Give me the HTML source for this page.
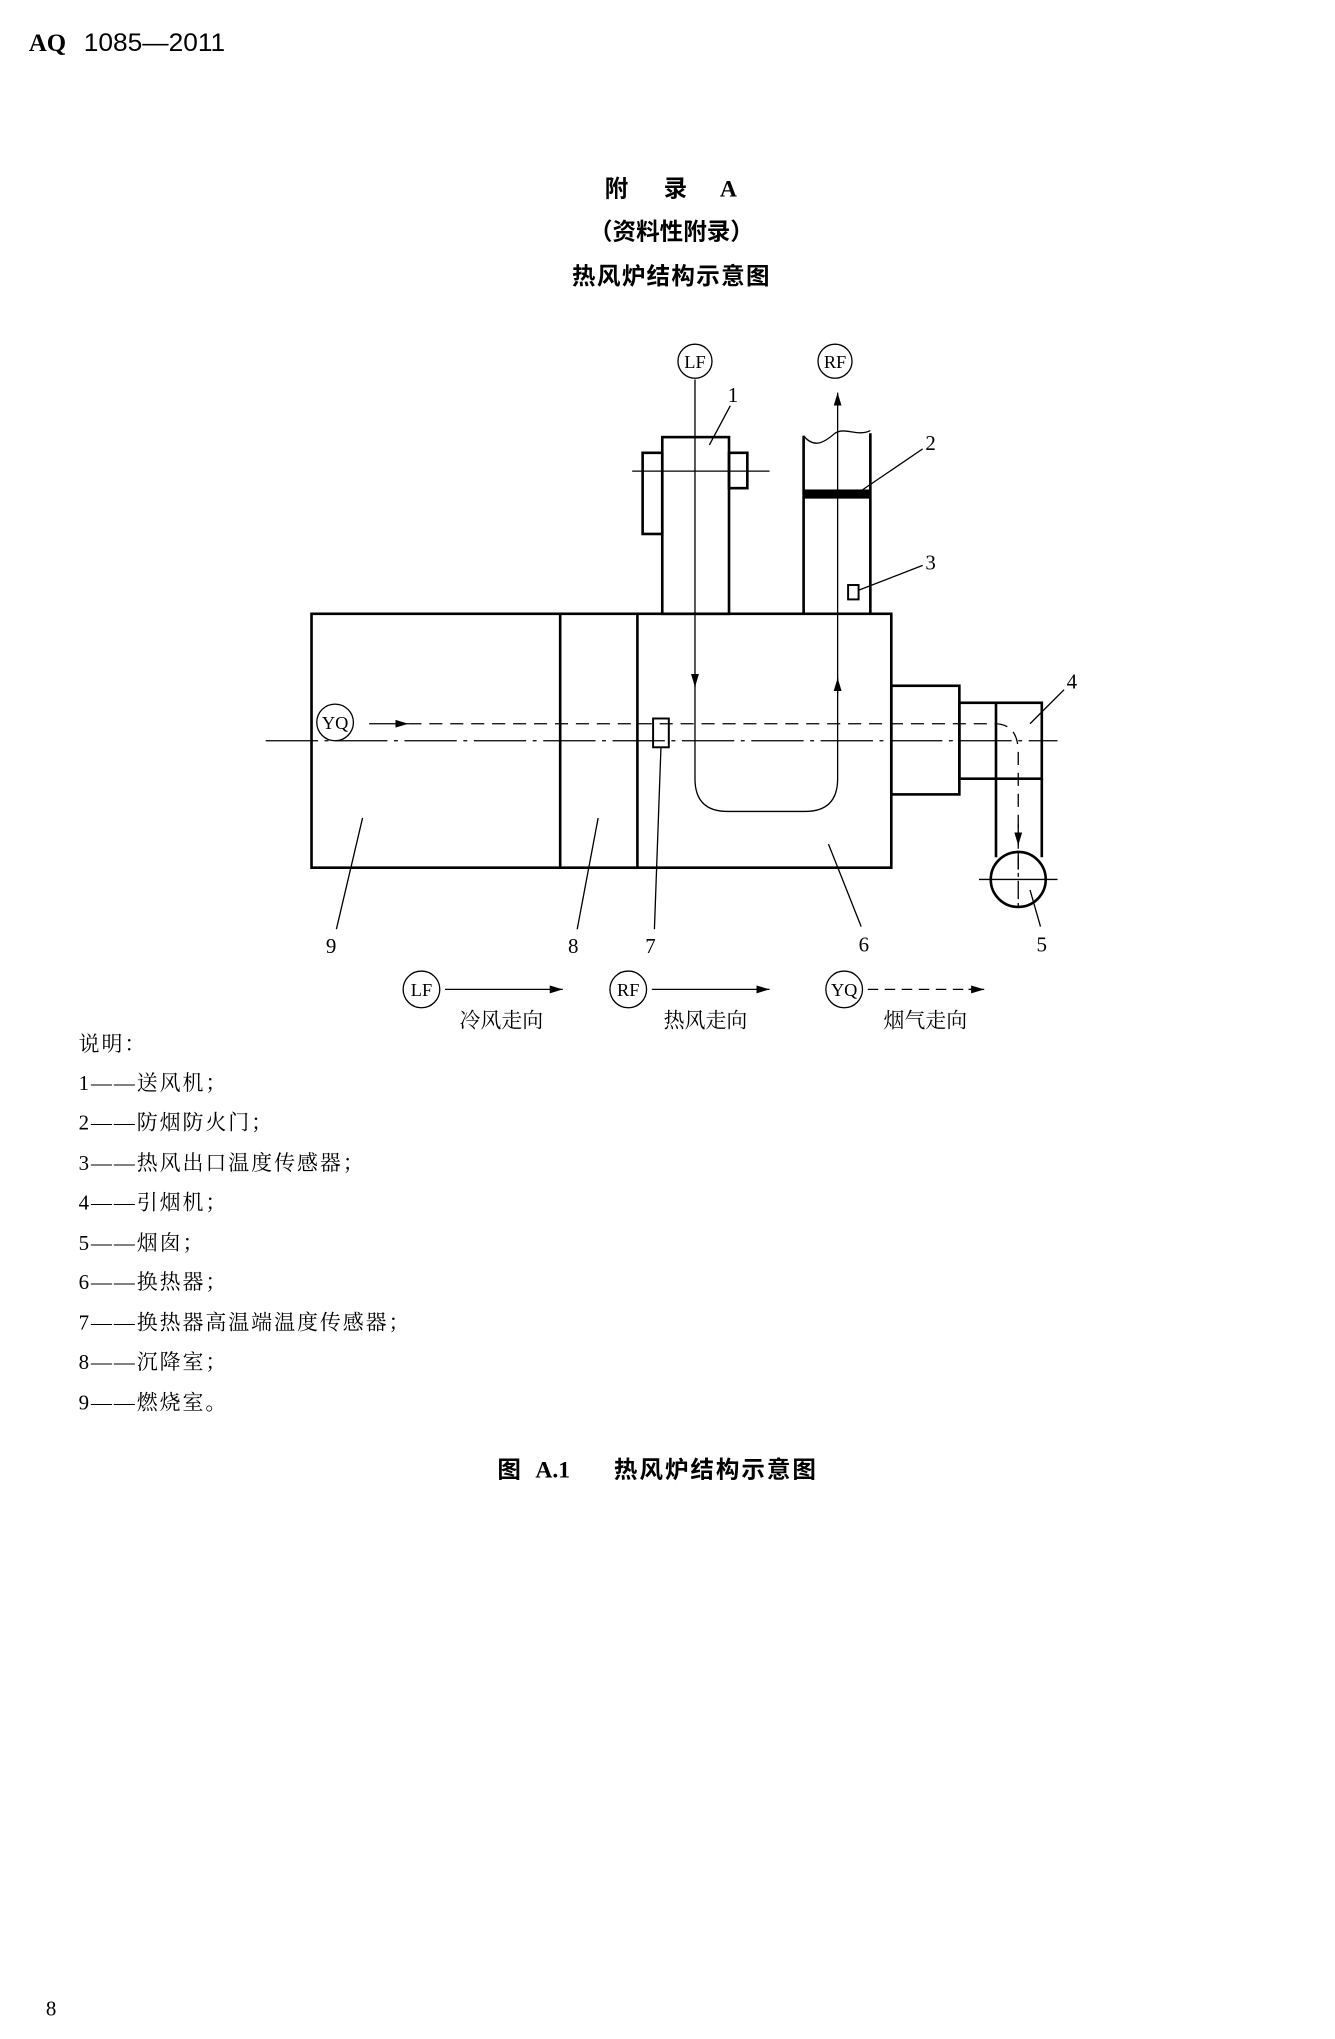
<!DOCTYPE html>
<html><head><meta charset="utf-8"><style>
html,body{margin:0;padding:0;background:#fff;}
svg{display:block;}
text{font-family:"Liberation Serif","Noto Serif CJK SC",serif;fill:#000;}
.cj{font-family:"Liberation Sans","Noto Sans CJK SC",sans-serif;}
.cs{font-family:"Noto Serif CJK SC","Liberation Serif",serif;}
</style></head><body>
<svg width="1335" height="2039" viewBox="0 0 1020 1558" xmlns="http://www.w3.org/2000/svg">
<defs><marker id="ah" viewBox="0 0 10 6" refX="10" refY="3" markerWidth="10" markerHeight="6" markerUnits="userSpaceOnUse" orient="auto"><path d="M0,0L10,3L0,6z" fill="#000"/></marker></defs>
<text x="22" y="39" font-size="19" font-weight="bold">AQ</text>
<text x="64" y="39" font-size="19" class="cj" textLength="108" lengthAdjust="spacingAndGlyphs">1085—2011</text>
<text x="462" y="150" font-size="18" font-weight="bold" class="cj">附</text>
<text x="507" y="150" font-size="18" font-weight="bold" class="cj">录</text>
<text x="550" y="150" font-size="18" font-weight="bold">A</text>
<text x="513" y="183" font-size="18" font-weight="bold" text-anchor="middle" class="cj">（资料性附录）</text>
<text x="513" y="217" font-size="18" font-weight="bold" text-anchor="middle" class="cj" letter-spacing="1">热风炉结构示意图</text>
<g fill="none" stroke="#000" stroke-width="2">
<rect x="238" y="469" width="443" height="194"/>
<line x1="428" y1="469" x2="428" y2="663"/><line x1="487" y1="469" x2="487" y2="663"/>
<rect x="506" y="334" width="51" height="135"/>
<rect x="491" y="346" width="15" height="62"/>
<rect x="557" y="346" width="14" height="27"/>
<path d="M614,469V333 M665,469V331"/>
<path d="M614,333 C622,343 630,338 638,331 C646,326 655,334 665,329" stroke-width="1"/>
<rect x="681" y="524" width="52" height="83"/>
<rect x="733" y="537" width="63" height="58"/>
<line x1="761" y1="537" x2="761" y2="655"/><line x1="796" y1="595" x2="796" y2="655"/>
<circle cx="778" cy="672" r="21"/>
<rect x="648" y="447" width="8" height="11" stroke-width="1.5"/>
<rect x="499" y="549" width="12" height="22" stroke-width="1.5"/>
</g>
<rect x="614" y="374" width="51" height="7" fill="#000"/>
<g stroke="#000" stroke-width="1" fill="none">
<line x1="483" y1="360" x2="588" y2="360"/>
<line x1="203" y1="566" x2="808" y2="566" stroke-dasharray="40,5,3,5"/>
<line x1="748" y1="672" x2="808" y2="672"/>
<line x1="778" y1="650" x2="778" y2="694" stroke-dasharray="14,3,3,3"/>
<line x1="531" y1="290" x2="531" y2="525" marker-end="url(#ah)"/>
<path d="M531,520 V595 Q531,620 556,620 H615 Q640,620 640,595 V300" marker-end="url(#ah)"/>
<line x1="640" y1="530" x2="640" y2="518" marker-end="url(#ah)"/>
<line x1="282" y1="553" x2="312" y2="553" marker-end="url(#ah)"/>
<path d="M312,553 H760 Q778,553 778,575 V665" stroke-dasharray="10,6"/>
<line x1="778" y1="630" x2="778" y2="646" marker-end="url(#ah)"/>
<circle cx="531" cy="276" r="13"/><circle cx="638" cy="276" r="13"/><circle cx="256" cy="552" r="14"/>
<line x1="542" y1="340" x2="558" y2="310"/>
<line x1="655" y1="377" x2="705" y2="343"/>
<line x1="656" y1="451" x2="705" y2="432"/>
<line x1="787" y1="553" x2="813" y2="527"/>
<line x1="277" y1="625" x2="257" y2="710"/>
<line x1="457" y1="625" x2="441" y2="710"/>
<line x1="505" y1="571" x2="500" y2="710"/>
<line x1="633" y1="645" x2="658" y2="708"/>
<line x1="787" y1="680" x2="795" y2="708"/>
<circle cx="322" cy="756" r="14"/><circle cx="480" cy="756" r="14"/><circle cx="645" cy="756" r="14"/>
<line x1="340" y1="756" x2="430" y2="756" marker-end="url(#ah)"/>
<line x1="498" y1="756" x2="588" y2="756" marker-end="url(#ah)"/>
<line x1="663" y1="756" x2="742" y2="756" stroke-dasharray="8,5"/>
<line x1="740" y1="756" x2="752" y2="756" marker-end="url(#ah)"/>
</g>
<g font-size="14" text-anchor="middle">
<text x="531" y="281">LF</text><text x="638" y="281">RF</text><text x="256" y="557">YQ</text>
<text x="322" y="761">LF</text><text x="480" y="761">RF</text><text x="645" y="761">YQ</text>
</g>
<g font-size="16">
<text x="556" y="307">1</text><text x="707" y="344">2</text><text x="707" y="435">3</text><text x="815" y="526">4</text>
<text x="249" y="728">9</text><text x="434" y="728">8</text><text x="493" y="728">7</text><text x="656" y="727">6</text><text x="792" y="727">5</text>
</g>
<g font-size="16" class="cs" text-anchor="middle">
<text x="383" y="785">冷风走向</text><text x="539" y="785">热风走向</text><text x="707" y="785">烟气走向</text>
</g>
<g font-size="16" class="cs" letter-spacing="1.5">
<text x="60" y="803">说明：</text>
<text x="60" y="833">1——送风机；</text>
<text x="60" y="863">2——防烟防火门；</text>
<text x="60" y="894">3——热风出口温度传感器；</text>
<text x="60" y="924">4——引烟机；</text>
<text x="60" y="955">5——烟囱；</text>
<text x="60" y="985">6——换热器；</text>
<text x="60" y="1016">7——换热器高温端温度传感器；</text>
<text x="60" y="1046">8——沉降室；</text>
<text x="60" y="1077">9——燃烧室。</text>
</g>
<text x="380" y="1129" font-size="18" font-weight="bold" class="cj">图</text>
<text x="409" y="1129" font-size="18" font-weight="bold">A.1</text>
<text x="469" y="1129" font-size="18" font-weight="bold" class="cj" letter-spacing="1.5">热风炉结构示意图</text>
<text x="35" y="1540" font-size="16">8</text>
</svg>
</body></html>
